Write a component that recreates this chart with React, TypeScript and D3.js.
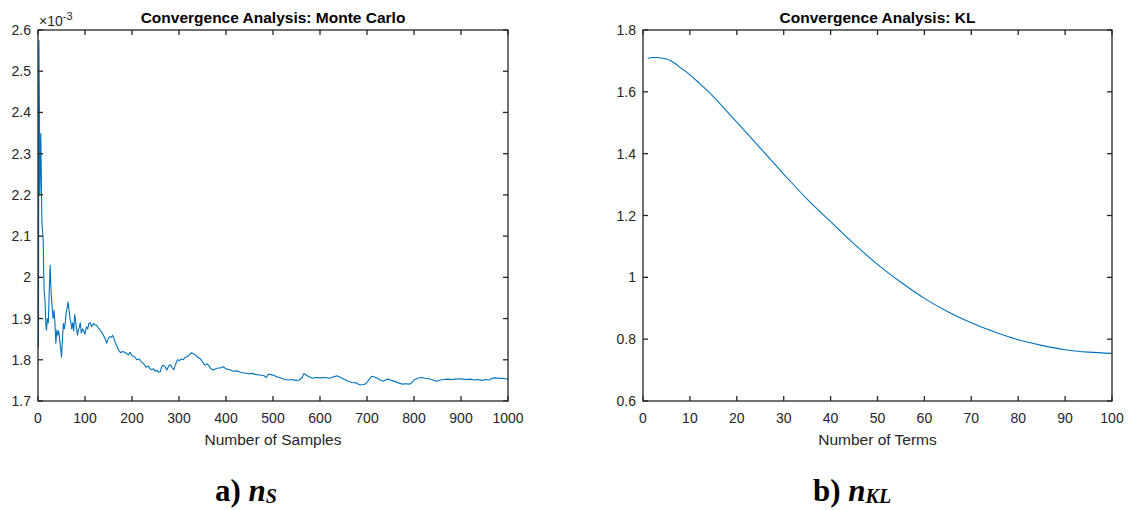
import React from 'react';
import * as d3 from 'd3';

// Monte Carlo convergence (values in units of 1e-3)
const mcSamples = [1, 2, 3, 4, 5, 6, 7, 8, 9, 10, 11, 12, 13, 15, 17, 18, 20, 22, 24, 26, 27, 28, 30, 32, 34, 36, 38, 40, 42, 44, 46, 48, 50, 52, 54, 56, 58, 60, 62, 64, 66, 68, 70, 72, 74, 76, 78, 80, 82, 84, 86, 88, 90, 92, 95, 98, 100, 103, 106, 108, 111, 114, 118, 121, 125, 128, 132, 135, 138, 141, 144, 146, 149, 152, 156, 159, 162, 165, 168, 172, 176, 180, 184, 188, 192, 196, 200, 205, 210, 215, 220, 225, 230, 235, 238, 242, 246, 250, 253, 256, 260, 263, 266, 270, 274, 278, 282, 286, 289, 293, 297, 301, 305, 309, 313, 318, 322, 327, 331, 335, 340, 345, 350, 355, 360, 364, 368, 373, 378, 383, 388, 394, 400, 408, 416, 424, 432, 440, 448, 456, 464, 472, 480, 486, 490, 496, 502, 510, 518, 525, 532, 540, 548, 556, 562, 566, 572, 578, 584, 592, 600, 610, 620, 628, 636, 644, 652, 660, 668, 676, 685, 691, 696, 700, 705, 710, 716, 722, 728, 735, 741, 745, 752, 760, 767, 774, 782, 791, 796, 800, 808, 816, 824, 832, 840, 848, 856, 864, 872, 880, 888, 896, 904, 912, 920, 928, 936, 944, 952, 960, 966, 972, 980, 988, 994, 1000];
const mcValues = [1.83, 2.575, 2.42, 2.2, 2.28, 2.349, 2.25, 2.15, 2.12, 2.11, 2.09, 2.02, 1.97, 1.94, 1.88, 1.872, 1.9, 1.89, 1.97, 2.03, 1.99, 1.96, 1.93, 1.9, 1.92, 1.89, 1.84, 1.872, 1.86, 1.87, 1.85, 1.83, 1.806, 1.85, 1.888, 1.875, 1.89, 1.915, 1.925, 1.94, 1.92, 1.9, 1.89, 1.875, 1.89, 1.87, 1.91, 1.895, 1.875, 1.86, 1.872, 1.88, 1.89, 1.865, 1.875, 1.868, 1.862, 1.88, 1.875, 1.888, 1.89, 1.88, 1.888, 1.885, 1.883, 1.878, 1.872, 1.868, 1.862, 1.855, 1.848, 1.84, 1.85, 1.856, 1.855, 1.859, 1.85, 1.84, 1.833, 1.822, 1.817, 1.82, 1.818, 1.816, 1.812, 1.818, 1.81, 1.808, 1.8, 1.802, 1.795, 1.79, 1.782, 1.785, 1.779, 1.776, 1.778, 1.772, 1.775, 1.77, 1.771, 1.782, 1.787, 1.784, 1.775, 1.785, 1.788, 1.78, 1.776, 1.79, 1.8, 1.798, 1.802, 1.8, 1.806, 1.808, 1.812, 1.817, 1.814, 1.812, 1.806, 1.803, 1.795, 1.787, 1.79, 1.785, 1.778, 1.775, 1.778, 1.78, 1.78, 1.783, 1.778, 1.776, 1.772, 1.773, 1.769, 1.768, 1.766, 1.767, 1.764, 1.763, 1.762, 1.757, 1.765, 1.764, 1.762, 1.758, 1.755, 1.752, 1.751, 1.752, 1.75, 1.751, 1.757, 1.767, 1.762, 1.758, 1.755, 1.757, 1.756, 1.757, 1.755, 1.758, 1.761, 1.757, 1.752, 1.748, 1.745, 1.744, 1.739, 1.74, 1.741, 1.745, 1.753, 1.76, 1.758, 1.755, 1.751, 1.748, 1.752, 1.753, 1.75, 1.747, 1.744, 1.741, 1.742, 1.741, 1.745, 1.751, 1.755, 1.757, 1.755, 1.754, 1.751, 1.748, 1.751, 1.752, 1.753, 1.752, 1.753, 1.754, 1.753, 1.752, 1.753, 1.751, 1.752, 1.75, 1.752, 1.751, 1.755, 1.756, 1.755, 1.755, 1.754, 1.753];

// KL convergence
const klTerms = [1, 2, 3, 4, 5, 6, 7, 8, 9, 10, 12, 14, 16, 18, 20, 22, 25, 30, 35, 40, 45, 50, 55, 60, 65, 70, 75, 80, 85, 90, 95, 100];
const klValues = [1.708, 1.711, 1.711, 1.709, 1.706, 1.7, 1.69, 1.678, 1.667, 1.655, 1.628, 1.6, 1.568, 1.535, 1.502, 1.469, 1.418, 1.334, 1.253, 1.18, 1.108, 1.042, 0.984, 0.932, 0.889, 0.853, 0.823, 0.798, 0.78, 0.766, 0.758, 0.754];

const mcXTicks = [0, 100, 200, 300, 400, 500, 600, 700, 800, 900, 1000];
const mcYTicks = [1.7, 1.8, 1.9, 2, 2.1, 2.2, 2.3, 2.4, 2.5, 2.6];
const klXTicks = [0, 10, 20, 30, 40, 50, 60, 70, 80, 90, 100];
const klYTicks = [0.6, 0.8, 1, 1.2, 1.4, 1.6, 1.8];

const AX = '#262626';
const LINE = '#0072BD';
const SANS = '"Liberation Sans", Arial, sans-serif';
const SERIF = '"Liberation Serif", "Times New Roman", serif';

const fmt = (v: number) => String(+v.toFixed(3));

type PanelProps = {
  x0: number; x1: number; y0: number; y1: number;
  xDomain: [number, number]; yDomain: [number, number];
  xTicks: number[]; yTicks: number[];
  xs: number[]; ys: number[];
  title: string; xLabel: string; exponent?: boolean; smooth?: boolean;
};

function Panel(p: PanelProps) {
  const x = d3.scaleLinear().domain(p.xDomain).range([p.x0, p.x1]);
  const y = d3.scaleLinear().domain(p.yDomain).range([p.y1, p.y0]);
  const pts = p.xs.map((v, i) => [v, p.ys[i]] as [number, number]);
  const line = d3.line<[number, number]>()
    .x(d => x(d[0]))
    .y(d => y(d[1]))
    .curve(p.smooth ? d3.curveMonotoneX : d3.curveLinear);
  const tl = 5;
  const cx = (p.x0 + p.x1) / 2;
  return (
    <g>
      <path d={line(pts) || ''} fill="none" stroke={LINE} strokeWidth={1.1} strokeLinejoin="round" />
      <rect x={p.x0} y={p.y0} width={p.x1 - p.x0} height={p.y1 - p.y0} fill="none" stroke={AX} strokeWidth={1.3} />
      {p.xTicks.map(t => (
        <g key={'x' + t}>
          <line x1={x(t)} x2={x(t)} y1={p.y1} y2={p.y1 - tl} stroke={AX} strokeWidth={1.3} />
          <line x1={x(t)} x2={x(t)} y1={p.y0} y2={p.y0 + tl} stroke={AX} strokeWidth={1.3} />
          <text x={x(t)} y={p.y1 + 22} textAnchor="middle" fontFamily={SANS} fontSize={14} fill={AX}>{fmt(t)}</text>
        </g>
      ))}
      {p.yTicks.map(t => (
        <g key={'y' + t}>
          <line x1={p.x0} x2={p.x0 + tl} y1={y(t)} y2={y(t)} stroke={AX} strokeWidth={1.3} />
          <line x1={p.x1} x2={p.x1 - tl} y1={y(t)} y2={y(t)} stroke={AX} strokeWidth={1.3} />
          <text x={p.x0 - 7} y={y(t) + 5} textAnchor="end" fontFamily={SANS} fontSize={14} fill={AX}>{fmt(t)}</text>
        </g>
      ))}
      <text x={cx} y={p.y0 - 7} textAnchor="middle" fontFamily={SANS} fontSize={15.5} fontWeight="bold" fill="#000">{p.title}</text>
      <text x={cx} y={p.y1 + 44} textAnchor="middle" fontFamily={SANS} fontSize={15.5} fill={AX}>{p.xLabel}</text>
      {p.exponent && (
        <text x={p.x0 + 1} y={p.y0 - 4} fontFamily={SANS} fontSize={14} fill={AX}>
          ×10<tspan fontSize={11} dy={-6}>-3</tspan>
        </text>
      )}
    </g>
  );
}

export default function App() {
  return (
    <svg width={1133} height={510} style={{ position: 'absolute', left: 0, top: 0, background: '#fff' }}>
      <rect width={1133} height={510} fill="#fff" />
      <Panel x0={38} x1={508} y0={30} y1={401} xDomain={[0, 1000]} yDomain={[1.7, 2.6]}
        xTicks={mcXTicks} yTicks={mcYTicks} xs={mcSamples} ys={mcValues}
        title="Convergence Analysis: Monte Carlo" xLabel="Number of Samples" exponent />
      <Panel x0={643} x1={1112} y0={30} y1={401} xDomain={[0, 100]} yDomain={[0.6, 1.8]}
        xTicks={klXTicks} yTicks={klYTicks} xs={klTerms} ys={klValues}
        title="Convergence Analysis: KL" xLabel="Number of Terms" smooth />
      <text x={215} y={501} fontFamily={SERIF} fontSize={31} fontWeight="bold" fill="#000">
        a) <tspan fontStyle="italic">n</tspan><tspan fontStyle="italic" fontSize={20} dy={2}>S</tspan>
      </text>
      <text x={813} y={501} fontFamily={SERIF} fontSize={31} fontWeight="bold" fill="#000">
        b) <tspan fontStyle="italic">n</tspan><tspan fontStyle="italic" fontSize={20} dy={2}>KL</tspan>
      </text>
    </svg>
  );
}
